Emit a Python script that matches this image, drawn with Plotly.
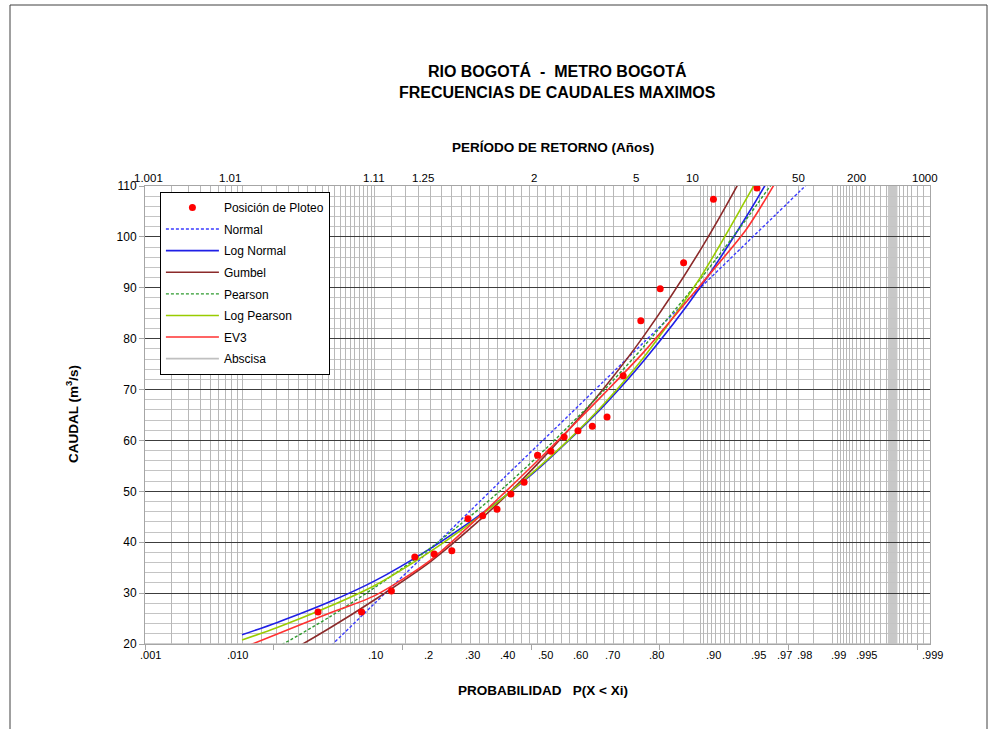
import numpy as np
import plotly.graph_objects as go

# ---------------------------------------------------------------
# Data
# ---------------------------------------------------------------
# Plotting positions (non-exceedance probability) of the observed annual maxima
plot_prob = [0.042, 0.083, 0.125, 0.167, 0.208, 0.250, 0.292, 0.333, 0.375,
             0.417, 0.458, 0.500, 0.542, 0.583, 0.625, 0.667, 0.708, 0.750,
             0.792, 0.833, 0.875, 0.917, 0.958]
caudal_obs = [26.3, 26.3, 30.4, 37.1, 37.7, 38.3, 44.6, 45.2, 46.5,
              49.5, 51.8, 57.1, 57.9, 60.7, 61.9, 62.8, 64.6, 72.7,
              83.5, 89.8, 94.9, 107.4, 109.6]

# Fitted distributions, evaluated at these probabilities
curve_prob = [0.01, 0.02, 0.05, 0.10, 0.20, 0.30, 0.40, 0.50,
              0.60, 0.70, 0.80, 0.90, 0.95, 0.97, 0.99]
q_normal = [2.7, 9.3, 19.2, 28.0, 38.6, 46.3, 52.9, 59.0,
            65.1, 71.7, 79.4, 90.0, 98.8, 104.5, 115.3]
q_lognormal = [21.8, 24.2, 28.2, 32.4, 38.8, 44.1, 49.1, 54.3,
               60.2, 66.9, 75.8, 90.1, 104.0, 114.1, 136.0]
q_gumbel = [13.5, 17.1, 23.0, 28.7, 36.2, 42.8, 49.0, 55.4,
            62.3, 70.3, 80.7, 97.4, 113.4, 125.0, 150.0]
q_pearson = [15.8, 19.3, 25.2, 31.1, 38.9, 45.2, 51.0, 56.8,
             63.0, 69.9, 78.6, 91.7, 103.5, 111.6, 125.0]
q_logpearson = [20.8, 23.2, 27.3, 31.5, 38.2, 43.8, 49.1, 54.5,
                60.3, 67.2, 76.5, 92.0, 107.5, 118.0, 140.0]
q_ev3 = [19.2, 21.9, 26.0, 29.5, 36.5, 43.5, 49.9, 56.0,
         62.3, 69.2, 77.5, 90.5, 101.5, 111.0, 130.0]
abscisa_prob = [0.001, 0.999]
abscisa_q = [20, 20]

# Axis labels (probability along the bottom, return period along the top)
prob_ticks = [0.001, 0.01, 0.1, 0.2, 0.3, 0.4, 0.5, 0.6, 0.7, 0.8, 0.9,
              0.95, 0.97, 0.98, 0.99, 0.995, 0.999]
prob_text = [".001", ".010", ".10", ".2", ".30", ".40", ".50", ".60", ".70",
             ".80", ".90", ".95", ".97", ".98", ".99", ".995", ".999"]
return_periods = [1.001, 1.01, 1.11, 1.25, 2, 5, 10, 50, 200, 1000]
return_text = ["1.001", "1.01", "1.11", "1.25", "2", "5", "10", "50", "200", "1000"]

# Hand-placed nudges (px) of the printed labels relative to their tick
prob_nudge = [5, -5, 1, -2, 2, 2, 8, 11, 8, 12, 13, 12, 8, 6, 6, 2, 2]
return_nudge = [3, -12, 0, -8, -4, -8, -8, 0, -8, -5]


# ---------------------------------------------------------------
# Normal probability scale
# ---------------------------------------------------------------
def probit(p):
    """Standard normal quantile (Acklam's rational approximation)."""
    a = [-3.969683028665376e+01, 2.209460984245205e+02, -2.759285104469687e+02,
         1.383577518672690e+02, -3.066479806614716e+01, 2.506628277459239e+00]
    b = [-5.447609879822406e+01, 1.615858368580409e+02, -1.556989798598866e+02,
         6.680131188771972e+01, -1.328068155288572e+01]
    c = [-7.784894002430293e-03, -3.223964580411365e-01, -2.400758277161838e+00,
         -2.549732539343734e+00, 4.374664141464968e+00, 2.938163982698783e+00]
    d = [7.784695709041462e-03, 3.224671290700398e-01, 2.445134137142996e+00,
         3.754408661907416e+00]
    p = np.atleast_1d(np.asarray(p, dtype=float))
    out = np.empty_like(p)
    lo = 0.02425
    for i, v in enumerate(p):
        if v < lo:
            q = np.sqrt(-2 * np.log(v))
            out[i] = (((((c[0]*q+c[1])*q+c[2])*q+c[3])*q+c[4])*q+c[5]) / \
                     ((((d[0]*q+d[1])*q+d[2])*q+d[3])*q+1)
        elif v <= 1 - lo:
            q = v - 0.5
            r = q * q
            out[i] = (((((a[0]*r+a[1])*r+a[2])*r+a[3])*r+a[4])*r+a[5])*q / \
                     (((((b[0]*r+b[1])*r+b[2])*r+b[3])*r+b[4])*r+1)
        else:
            q = np.sqrt(-2 * np.log(1 - v))
            out[i] = -(((((c[0]*q+c[1])*q+c[2])*q+c[3])*q+c[4])*q+c[5]) / \
                      ((((d[0]*q+d[1])*q+d[2])*q+d[3])*q+1)
    return out


P_LO, P_HI = 0.001, 0.999
X_MIN, X_MAX = probit(P_LO)[0], probit(P_HI)[0]

# Vertical rulings of the probability paper
grid_p = np.concatenate([
    np.arange(0.001, 0.0100001, 0.001),
    np.arange(0.015, 0.1000001, 0.005),
    np.arange(0.125, 0.9000001, 0.025),
    np.arange(0.905, 0.9900001, 0.005),
    np.arange(0.991, 0.9970001, 0.0005),
    np.arange(0.9978, 0.9990001, 0.0002),
])
grid_z = probit(np.clip(grid_p, P_LO, P_HI))

# ---------------------------------------------------------------
# Figure
# ---------------------------------------------------------------
fig = go.Figure()

FONT = "Liberation Sans, Arial, sans-serif"

series = [
    ("Normal", q_normal, "#3b3bff", "3px,2px", 1.4),
    ("Log Normal", q_lognormal, "#1f1fe6", "solid", 1.6),
    ("Gumbel", q_gumbel, "#8b2a2a", "solid", 1.6),
    ("Pearson", q_pearson, "#2e9a2e", "3px,2px", 1.4),
    ("Log Pearson", q_logpearson, "#99cc00", "solid", 1.6),
    ("EV3", q_ev3, "#ff3030", "solid", 1.6),
]
for rank, (name, q, color, dash, width) in enumerate(series, start=2):
    fig.add_trace(go.Scatter(
        x=probit(curve_prob), y=q, mode="lines", name=name,
        line=dict(color=color, dash=dash, width=width, shape="spline", smoothing=0.8),
        legendgroup=name, legendrank=rank,
    ))

fig.add_trace(go.Scatter(
    x=probit(abscisa_prob), y=abscisa_q, mode="lines", name="Abscisa",
    line=dict(color="#c0c0c0", width=1.6), legendgroup="Abscisa", legendrank=8,
))

fig.add_trace(go.Scatter(
    x=probit(plot_prob), y=caudal_obs, mode="markers", name="Posición de Ploteo",
    marker=dict(color="#ff0000", size=7), legendgroup="obs", legendrank=1,
))

# Secondary linear axis carrying the small tick marks under the plot
fig.add_trace(go.Scatter(x=[None], y=[None], xaxis="x2", showlegend=False,
                         hoverinfo="skip"))

fig.update_layout(
    width=992, height=729,
    margin=dict(l=145, r=62, t=186, b=85),
    paper_bgcolor="white", plot_bgcolor="white",
    font=dict(family=FONT, size=11, color="#000000"),
    showlegend=True,
    legend=dict(
        x=0.019, y=0.987, xanchor="left", yanchor="top",
        bgcolor="white", bordercolor="#000000", borderwidth=1,
        font=dict(size=12, family=FONT), itemwidth=53,
        entrywidth=163, entrywidthmode="pixels",
        tracegroupgap=2.6,
    ),
    xaxis=dict(
        range=[X_MIN, X_MAX], tickvals=list(grid_z), showticklabels=False,
        ticks="", showgrid=True, gridcolor="#b8b8b8", gridwidth=1,
        zeroline=False, showline=True, linecolor="#a6a6a6", mirror=True,
    ),
    xaxis2=dict(
        overlaying="x", side="bottom", anchor="y", range=[0, 6.1],
        dtick=1, ticks="outside", ticklen=5, tickcolor="#a6a6a6",
        showticklabels=False, showgrid=False, zeroline=False, showline=False,
    ),
    yaxis=dict(
        range=[20, 110], dtick=10, ticks="outside", ticklen=5, tickcolor="#a6a6a6",
        showgrid=True, gridcolor="#3c3c3c", gridwidth=1,
        minor=dict(dtick=2, showgrid=True, gridcolor="#c4c4c4"),
        zeroline=False, showline=True, linecolor="#a6a6a6", mirror=True,
        tickfont=dict(size=12),
    ),
)

# Densely ruled strip of the paper near the upper tail
fig.add_shape(type="rect", xref="x", yref="paper", layer="below",
              x0=probit(0.9971)[0], x1=probit(0.9977)[0], y0=0, y1=1,
              fillcolor="#c8c8c8", line=dict(width=0))

# Probability and return-period labels
for p, txt, dx in zip(prob_ticks, prob_text, prob_nudge):
    fig.add_annotation(x=probit(p)[0], y=-0.024, xref="x", yref="paper", text=txt,
                       showarrow=False, xshift=dx, font=dict(size=11),
                       xanchor="center", yanchor="middle")
for t, txt, dx in zip(return_periods, return_text, return_nudge):
    p = min(max(1 - 1 / t, P_LO), P_HI)
    fig.add_annotation(x=probit(p)[0], y=1.0175, xref="x", yref="paper",
                       text=txt, showarrow=False, xshift=dx, font=dict(size=11.5),
                       xanchor="center", yanchor="middle")


def px_to_paper(px, py):
    return (px - 145) / 785, (644 - py) / 458


titles = [
    ("<b>RIO BOGOTÁ  -  METRO BOGOTÁ<br>FRECUENCIAS DE CAUDALES MAXIMOS</b>", 557, 82, 16, 0),
    ("<b>PERÍODO DE RETORNO (Años)</b>", 553, 148, 13.5, 0),
    ("<b>PROBABILIDAD   P(X &lt; Xi)</b>", 543, 690, 13.5, 0),
    ("<b>CAUDAL (m<sup>3</sup>/s)</b>", 72, 414, 13.5, -90),
]
for text, px, py, size, ang in titles:
    ax_, ay_ = px_to_paper(px, py)
    fig.add_annotation(text=text, x=ax_, y=ay_, xref="paper", yref="paper",
                       showarrow=False, xanchor="center", yanchor="middle",
                       textangle=ang, font=dict(size=size, family=FONT))

# Page frame
x0, y0 = px_to_paper(10, 5)
x1, y1 = px_to_paper(987, 745)
fig.add_shape(type="rect", xref="paper", yref="paper", x0=x0, y0=y1, x1=x1, y1=y0,
              line=dict(color="#404040", width=1))

fig.write_html("out.html")
